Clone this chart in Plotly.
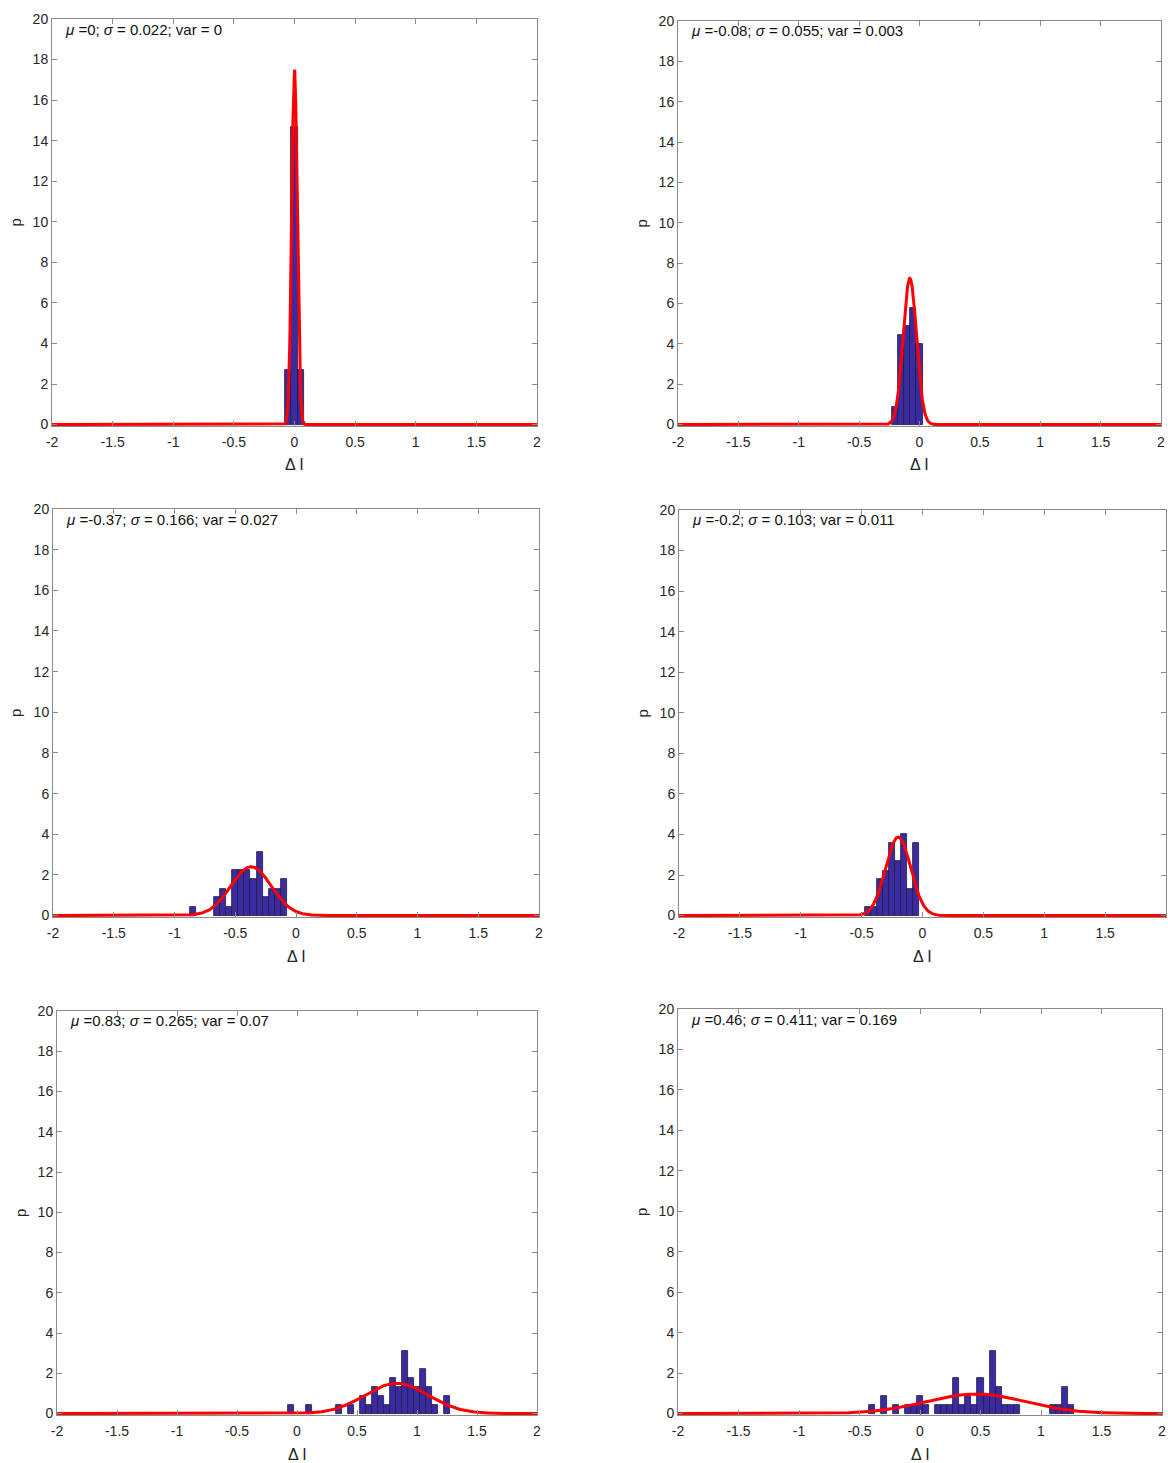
import numpy as np
import plotly.graph_objects as go

W, H = 1168, 1463

# ---------------- data ----------------
bin_width = 0.05

p1_centers = [-0.05, 0.0, 0.05]
p1_density = [2.67, 14.67, 2.67]

p2_centers = [-0.2, -0.15, -0.1, -0.05, 0.0]
p2_density = [0.89, 4.44, 4.89, 5.78, 4.0]

p3_centers = [-0.85, -0.65, -0.6, -0.55, -0.5, -0.45, -0.4, -0.35, -0.3, -0.25, -0.2, -0.15, -0.1]
p3_density = [0.44, 0.89, 1.33, 0.44, 2.22, 2.22, 2.22, 1.78, 3.11, 0.89, 1.33, 1.33, 1.78]

p4_centers = [-0.45, -0.4, -0.35, -0.3, -0.25, -0.2, -0.15, -0.1, -0.05]
p4_density = [0.44, 0.44, 1.78, 2.22, 3.56, 2.67, 4.0, 1.33, 3.56]

p5_centers = [-0.05, 0.1, 0.35, 0.45, 0.55, 0.6, 0.65, 0.7, 0.75, 0.8, 0.85, 0.9,
              0.95, 1.0, 1.05, 1.1, 1.15, 1.25]
p5_density = [0.44, 0.44, 0.44, 0.44, 0.89, 0.44, 1.33, 0.89, 0.44, 1.78, 1.33, 3.11,
              1.78, 1.33, 2.22, 1.33, 0.44, 0.89]

p6_centers = [-0.4, -0.3, -0.2, -0.1, -0.05, 0.0, 0.05, 0.15, 0.2, 0.25, 0.3, 0.35,
              0.4, 0.45, 0.5, 0.55, 0.6, 0.65, 0.7, 0.75, 0.8, 1.1, 1.15, 1.2, 1.25]
p6_density = [0.44, 0.89, 0.44, 0.44, 0.44, 0.89, 0.44, 0.44, 0.44, 0.44, 1.78, 0.44,
              0.89, 0.44, 1.78, 0.89, 3.11, 1.33, 0.44, 0.44, 0.44, 0.44, 0.44, 1.33, 0.44]

fit_mu = [0.0, -0.08, -0.37, -0.2, 0.83, 0.46]
fit_sigma = [0.0228, 0.055, 0.166, 0.103, 0.265, 0.411]

stat_labels = [
    "<i>μ</i> =0; <i>σ</i> = 0.022; var = 0",
    "<i>μ</i> =-0.08; <i>σ</i> = 0.055; var = 0.003",
    "<i>μ</i> =-0.37; <i>σ</i> = 0.166; var = 0.027",
    "<i>μ</i> =-0.2; <i>σ</i> = 0.103; var = 0.011",
    "<i>μ</i> =0.83; <i>σ</i> = 0.265; var = 0.07",
    "<i>μ</i> =0.46; <i>σ</i> = 0.411; var = 0.169",
]

x_ticks = [-2, -1.5, -1, -0.5, 0, 0.5, 1, 1.5, 2]
x_ticklabels = ["-2", "-1.5", "-1", "-0.5", "0", "0.5", "1", "1.5", "2"]
y_ticks = [0, 2, 4, 6, 8, 10, 12, 14, 16, 18, 20]
y_ticklabels = ["0", "2", "4", "6", "8", "10", "12", "14", "16", "18", "20"]

centers = [p1_centers, p2_centers, p3_centers, p4_centers, p5_centers, p6_centers]
densities = [p1_density, p2_density, p3_density, p4_density, p5_density, p6_density]

# ---------------- layout geometry (pixels) ----------------
# (left, right, top, bottom)
boxes = [
    (52, 537, 19, 426),
    (678, 1161, 21, 426),
    (53, 539, 509, 917),
    (679, 1166, 510, 917),
    (57, 537, 1011, 1415),
    (678, 1162, 1009, 1415),
]

FONT = "Liberation Sans, Arial, Helvetica, sans-serif"
BAR_FILL = "#3b2ba3"
BAR_EDGE = "#1e1e3c"
AXIS_COL = "#8a8a8a"

fig = go.Figure()
xgrid = np.linspace(-2, 2, 1601)

annotations = []
for i in range(6):
    ax = "" if i == 0 else str(i + 1)
    xa, ya = "x" + ax, "y" + ax
    fig.add_trace(go.Bar(
        x=centers[i], y=densities[i], width=bin_width,
        marker=dict(color=BAR_FILL, line=dict(color=BAR_EDGE, width=0.8)),
        xaxis=xa, yaxis=ya, showlegend=False,
    ))
    pdf = np.exp(-0.5 * ((xgrid - fit_mu[i]) / fit_sigma[i]) ** 2) / (fit_sigma[i] * np.sqrt(2 * np.pi))
    fig.add_trace(go.Scatter(
        x=xgrid, y=pdf, mode="lines",
        line=dict(color="#ff0000", width=3),
        xaxis=xa, yaxis=ya, showlegend=False,
    ))
    l, r, t, b = boxes[i]
    common = dict(
        showline=True, linecolor=AXIS_COL, linewidth=1, mirror="ticks",
        ticks="inside", ticklen=5, tickcolor=AXIS_COL, tickwidth=1,
        showgrid=False, zeroline=False, automargin=False,
        tickfont=dict(family=FONT, size=14, color="#262626"),
    )
    fig.layout["xaxis" + ax] = dict(
        domain=[l / W, r / W], range=[-2, 2], anchor=ya,
        tickmode="array", tickvals=x_ticks, ticktext=x_ticklabels,
        ticklabelstandoff=3,
        **common,
    )
    fig.layout["yaxis" + ax] = dict(
        domain=[1 - b / H, 1 - t / H], range=[-0.07, 20], anchor=xa,
        tickmode="array", tickvals=y_ticks, ticktext=y_ticklabels,
        **common,
    )
    # statistics text
    annotations.append(dict(
        x=(l + 11) / W, y=1 - (t + 10) / H, xref="paper", yref="paper",
        text=stat_labels[i], showarrow=False, xanchor="left", yanchor="middle",
        font=dict(family=FONT, size=15, color="#111111"),
    ))
    # axis labels
    annotations.append(dict(
        x=((l + r) / 2) / W, y=1 - (b + 39) / H, xref="paper", yref="paper",
        text="Δ I", showarrow=False, xanchor="center", yanchor="middle",
        font=dict(family=FONT, size=16, color="#262626"),
    ))
    annotations.append(dict(
        x=(l - 37) / W, y=1 - ((t + b) / 2) / H, xref="paper", yref="paper",
        text="p", showarrow=False, xanchor="center", yanchor="middle", textangle=-90,
        font=dict(family=FONT, size=15, color="#262626"),
    ))

fig.update_layout(
    width=W, height=H,
    margin=dict(l=0, r=0, t=0, b=0, autoexpand=False),
    paper_bgcolor="white", plot_bgcolor="white",
    bargap=0, annotations=annotations,
)

fig.write_html(
    "out.html",
    config={"displayModeBar": False},
    post_script="document.body.style.margin='0';document.body.style.overflow='hidden';",
)
